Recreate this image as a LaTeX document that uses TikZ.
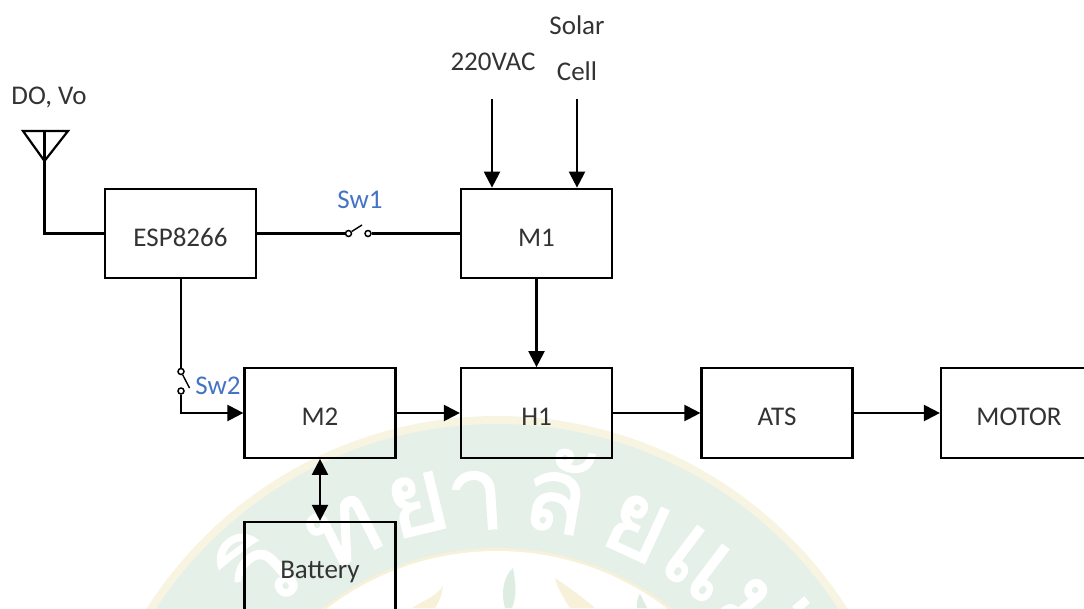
\documentclass[tikz,border=0pt]{standalone}
\usepackage{fontspec}
\setmainfont{Carlito}
\newfontfamily\thaifont[Script=Thai,FakeBold=1.5]{Loma}
\usetikzlibrary{arrows.meta}
\definecolor{band}{HTML}{E4F0E8}
\definecolor{rim}{HTML}{F8F4E2}
\definecolor{swblue}{HTML}{4472C4}
\definecolor{flamegold}{HTML}{F6F1D8}
\definecolor{flamegreen}{HTML}{DDEDE2}
\tikzset{
  x=1pt,y=-1pt,
  blockbox/.style={draw=black,line width=2.2pt,minimum width=151pt,minimum height=89.5pt,inner sep=0pt,text height=25pt,text depth=0pt,font=\fontsize{27}{30}\selectfont,text=black!80},
  lab/.style={inner sep=0pt,font=\fontsize{27}{30}\selectfont,text=black!80},
  swlab/.style={inner sep=0pt,font=\fontsize{27}{30}\selectfont,text=swblue},
  wire/.style={draw=black,line width=2.2pt},
  arrow/.style={wire,-{Triangle[length=16pt,width=16pt]}},
  biarrow/.style={wire,{Triangle[length=16pt,width=16pt]}-{Triangle[length=16pt,width=16pt]}},
  contact/.style={circle,draw=black,line width=1.5pt,fill=white,minimum size=6pt,inner sep=0pt},
  lever/.style={draw=black,line width=1.4pt},
  wm/.style={inner sep=0pt,text=white,font=\thaifont\fontsize{104}{104}\selectfont}
}
\begin{document}
\begin{tikzpicture}
\useasboundingbox (0,0) rectangle (1084,608);
\clip (0,0) rectangle (1084,608);
% watermark
\fill[rim] (497,831) circle[radius=415];
\fill[band] (497,831) circle[radius=407];
\fill[flamegold] (497,831) circle[radius=283];
\fill[white] (497,831) circle[radius=280];
\foreach \nm/\ang/\rad/\txt in {a/-42.5/355/วิ,b/-27/336/ท,c/-13.7/336/ย,d/-3.7/331/า,e/10/346/ลั,f/24.8/334/ย,g/37/335/แ,h/50/345/ม่}{
  \node[wm,rotate=-\ang] (wm\nm) at ({497+\rad*sin(\ang)},{831-\rad*cos(\ang)}) {\txt};
}
\fill[flamegreen] (505,608) .. controls (500,590) and (505,575) .. (513,568) .. controls (516,585) and (517,595) .. (512,608) -- cycle;
\fill[flamegold] (555,578) .. controls (565,585) and (580,595) .. (595,608) -- (570,608) .. controls (565,600) and (558,590) .. cycle;
\fill[flamegold] (443,586) .. controls (438,595) and (425,600) .. (412,608) -- (435,608) .. controls (440,600) and (442,595) .. cycle;
\fill[flamegreen] (637,608) .. controls (637,600) and (638,596) .. (640,594) .. controls (642,598) and (645,604) .. (647,608) -- cycle;
% blocks
\node[blockbox] (esp) at (180.5,233.5) {ESP8266};
\node[blockbox] (m1) at (536.5,233.5) {M1};
\node[blockbox] (m2) at (320,413) {M2};
\node[blockbox] (h1) at (536.5,413) {H1};
\node[blockbox] (ats) at (777,413) {ATS};
\node[draw=black,line width=2.2pt,minimum width=160pt,minimum height=89.5pt,inner sep=0pt] (motor) at (1021,413) {};
\node[lab] (motorlab) at (1019,417) {MOTOR};
\node[draw=black,line width=2.2pt,minimum width=151pt,minimum height=100pt,inner sep=0pt] (bat) at (320,572) {};
\node[lab] (batlab) at (320,572) {Battery};
% labels
\node[lab] (dolab) at (49,97) {DO, Vo};
\node[lab] (ac) at (493,62) {220VAC};
\node[lab] (sol1) at (577,25) {Solar};
\node[lab] (sol2) at (577,71) {Cell};
\node[swlab] (sw1lab) at (360,200) {Sw1};
\node[swlab] (sw2lab) at (218,386) {Sw2};
% antenna
\coordinate (antl) at (23,131);
\coordinate (antr) at (68,131);
\coordinate (antt) at (44.5,131);
\coordinate (antb) at (44.5,161);
\draw[wire,line join=miter] (antl) -- (antr) -- (antb) -- cycle;
\draw[wire] (antt) -- (antb) |- (esp.west);
% switch 1
\node[contact] (s1a) at (348.5,233.5) {};
\node[contact] (s1b) at (368,233.5) {};
\coordinate (s1l) at (362,225);
\draw[wire] (esp.east) -- (s1a);
\draw[wire] (s1b) -- (m1.west);
\draw[lever] (s1a) -- (s1l);
% switch 2
\node[contact] (s2a) at (181,371.5) {};
\node[contact] (s2b) at (181,391) {};
\coordinate (s2l) at (189.5,388);
\draw[wire] (esp.south -| s2a) -- (s2a);
\draw[lever] (s2a) -- (s2l);
\draw[arrow] (s2b) |- (m2.west);
% arrows
\coordinate (acs) at (492,99);
\coordinate (sols) at (577,99);
\draw[arrow] (acs) -- (acs |- m1.north);
\draw[arrow] (sols) -- (sols |- m1.north);
\draw[arrow] (m1.south) -- (h1.north);
\draw[arrow] (m2.east) -- (h1.west);
\draw[arrow] (h1.east) -- (ats.west);
\draw[arrow] (ats.east) -- (motor.west);
\draw[biarrow] (m2.south) -- (bat.north);
\end{tikzpicture}
\end{document}
